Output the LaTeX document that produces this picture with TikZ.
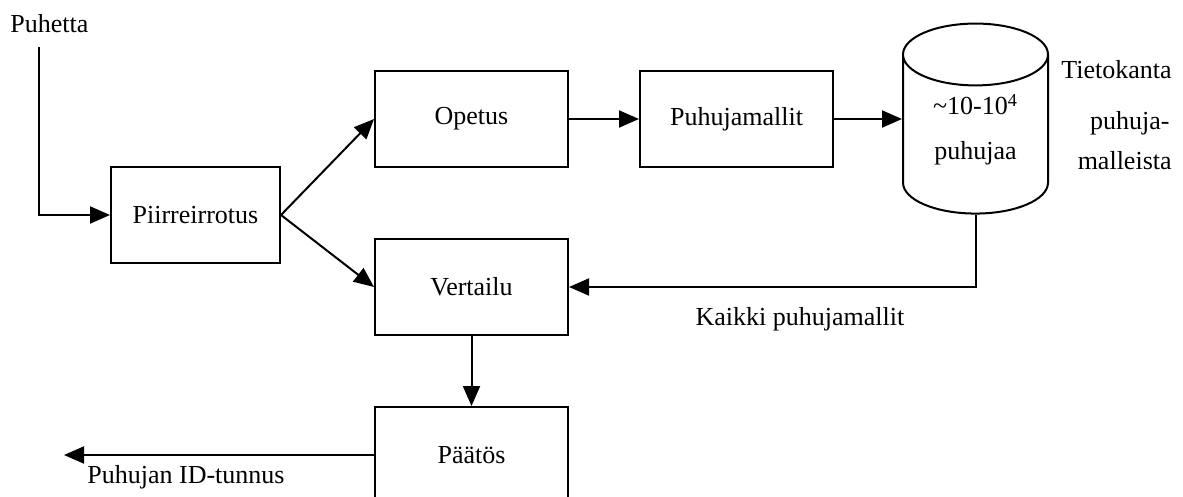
\documentclass[tikz,border=0pt]{standalone}
\usepackage{fontspec}
\setmainfont{Liberation Serif}
\usetikzlibrary{arrows.meta,positioning,shapes.geometric}
\tikzset{
    %Define standard arrow tip
    >={Triangle[length=10pt,width=8.5pt]},
    font=\fontsize{13}{15}\selectfont,
    %Define style for boxes
    lohko/.style={
           rectangle,
           draw=black, line width=1pt,
           minimum width=96.5pt,
           minimum height=48pt,
           text centered},
    % Define style for the database
    kanta/.style={
           cylinder,
           shape border rotate=90,
           aspect=0.63,
           draw=black, line width=1pt,
           minimum width=72.5pt,
           minimum height=95pt,
           align=center},
    % Define arrow style
    pil/.style={
	   ->,
	   line width=1pt},
    % Define plain text style
    selite/.style={inner sep=0pt}
}

\begin{document}
\begin{tikzpicture}[x=0.5pt,y=-0.5pt,node distance=35pt]
  \clip (0,0) rectangle (1183,497);
  \node[lohko,minimum width=84.5pt] (pi) at (195.5,215) {Piirreirrotus};
  \node[lohko] (op) at (471.5,119) {Opetus};
  \node[lohko] (pm) [right=of op] {Puhujamallit};
  \node[kanta] (db) at (975.5,141) {\textasciitilde10-10\textsuperscript{4}\\[7.5pt]puhujaa\\[-1pt]\mbox{}};
  \node[lohko] (ver) [below=of op] {Vertailu};
  \node[lohko] (pa) [below=of ver] {Päätös};
  \node[selite,anchor=base west] (in) at (10,33) {Puhetta};
  \node[selite,anchor=base east] (tk1) at (1172,79) {Tietokanta};
  \node[selite,anchor=base east] (tk2) at (1170,130) {puhuja-};
  \node[selite,anchor=base east] (tk3) at (1172,170) {malleista};
  \node[selite,anchor=base] (kaikki) at (800,325) {Kaikki puhujamallit};
  \node[selite,anchor=base west] (id) at (87,483) {Puhujan ID-tunnus};
  \coordinate (alku) at (39,47);
  \coordinate (ulos) at (64,455);
  \draw[pil] (alku) |- (pi.west);
  \path[pil]
    (pi.east) edge (op.west)
    (pi.east) edge (ver.west)
    (op) edge (pm)
    (ver) edge (pa);
  \draw[pil] (pm.east) -- (pm.east -| db.west);
  \draw[pil] (db.south) |- (ver.east);
  \draw[pil] (pa.west) -- (pa.west -| ulos);
\end{tikzpicture}
\end{document}
